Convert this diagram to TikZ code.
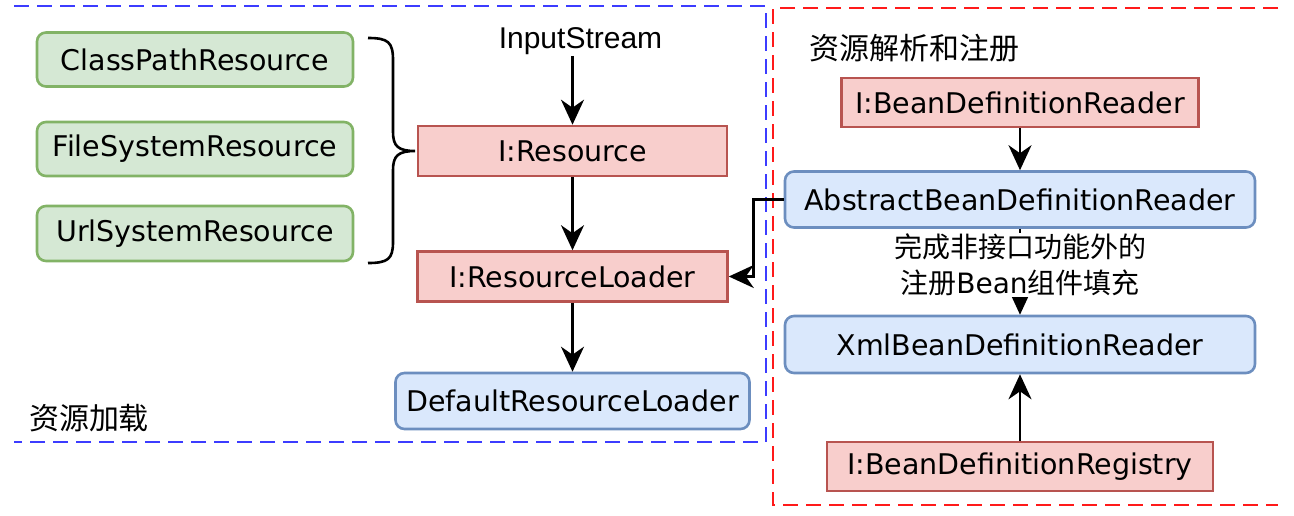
\documentclass[tikz,border=0pt]{standalone}
\usepackage{fontspec}
\setmainfont{DejaVu Sans}
\newfontfamily\cjk{Noto Sans CJK SC}
\newfontfamily\helv{Liberation Sans}
\usetikzlibrary{arrows.meta}
\definecolor{gfill}{HTML}{D5E8D4}
\definecolor{gdraw}{HTML}{82B366}
\definecolor{rfill}{HTML}{F8CECC}
\definecolor{rdraw}{HTML}{B85450}
\definecolor{bfill}{HTML}{DAE8FC}
\definecolor{bdraw}{HTML}{6C8EBF}
\definecolor{dblue}{HTML}{3C3CFF}
\definecolor{dred}{HTML}{FF1A1A}
\tikzset{
  box/.style={draw, line width=2.6pt, inner sep=0pt, align=center, font=\fontsize{28.5}{32}\selectfont},
  greenbox/.style={box, fill=gfill, draw=gdraw, rounded corners=9pt},
  redbox/.style={box, fill=rfill, draw=rdraw},
  bluebox/.style={box, fill=bfill, draw=bdraw, rounded corners=9pt},
  arr/.style={line width=2.6pt, -{Stealth[length=25pt,width=23pt,inset=8pt]}},
  frame/.style={line width=2.6pt, dash pattern=on 15pt off 8pt},
  cjklabel/.style={inner sep=0pt, font=\cjk\fontsize{30}{34}\selectfont}
}
\begin{document}
\begin{tikzpicture}[x=1pt,y=-1pt]
\useasboundingbox (0,0) rectangle (1294,515);
% frames
\draw[frame, draw=dblue] (14,6) -- (766,6) -- (766,442) -- (14,442);
\draw[frame, draw=dred] (1278,8) -- (773,8) -- (773,505) -- (1278,505);

% left part
\node[greenbox, minimum width=316pt, minimum height=54pt] (cp) at (195,59.5) {ClassPathResource};
\node[greenbox, minimum width=316pt, minimum height=54pt] (fs) at (195,149) {FileSystemResource};
\node[greenbox, minimum width=316pt, minimum height=55pt] (url) at (195,233.5) {UrlSystemResource};

\node[inner sep=1pt, font=\helv\fontsize{30}{34}\selectfont] (is) at (580.5,41) {InputStream};
\node[redbox, minimum width=309pt, minimum height=50pt] (res) at (572.5,151) {I:Resource};
\node[redbox, minimum width=310pt, minimum height=50pt] (rl) at (572.5,276.5) {I:ResourceLoader};
\node[bluebox, minimum width=354pt, minimum height=56pt] (drl) at (572.5,401) {DefaultResourceLoader};
\node[cjklabel] (l1) at (89,418) {资源加载};

% brace
\coordinate (bt) at (368,38);
\coordinate (btip) at (415,151);
\coordinate (bb) at (368,263);
\draw[line width=2.6pt] (bt) .. controls (388,38) and (393,42) .. (393,60) -- (393,132)
  .. controls (393,146) and (398,151) .. (btip)
  .. controls (398,151) and (393,156) .. (393,170) -- (393,242)
  .. controls (393,259) and (388,263) .. (bb);

\draw[arr] (is.south -| res.north) -- (res.north);
\draw[arr] (res.south) -- (rl.north);
\draw[arr] (rl.south) -- (drl.north);

% right part
\node[cjklabel] (l2) at (914,48) {资源解析和注册};
\node[redbox, minimum width=357pt, minimum height=49pt] (bdr) at (1020,102.5) {I:BeanDefinitionReader};
\node[bluebox, minimum width=470pt, minimum height=56pt] (abdr) at (1020,199.5) {AbstractBeanDefinitionReader};
\node[bluebox, minimum width=470pt, minimum height=57pt] (xml) at (1020,344.5) {XmlBeanDefinitionReader};
\node[redbox, minimum width=386pt, minimum height=49pt] (reg) at (1020,466.5) {I:BeanDefinitionRegistry};

\draw[arr] (bdr.south) -- (abdr.north);
\draw[arr] (abdr.south) -- (xml.north)
  node[pos=0.42, fill=white, inner sep=1pt, align=center, font=\fontsize{28}{36}\selectfont]
  (note) {{\cjk 完成非接口功能外的}\\{\cjk 注册}Bean{\cjk 组件填充}};
\draw[arr] (reg.north) -- (xml.south);
\draw[arr] (abdr.west) -- ++(-30,0) |- (rl.east);
\end{tikzpicture}
\end{document}
